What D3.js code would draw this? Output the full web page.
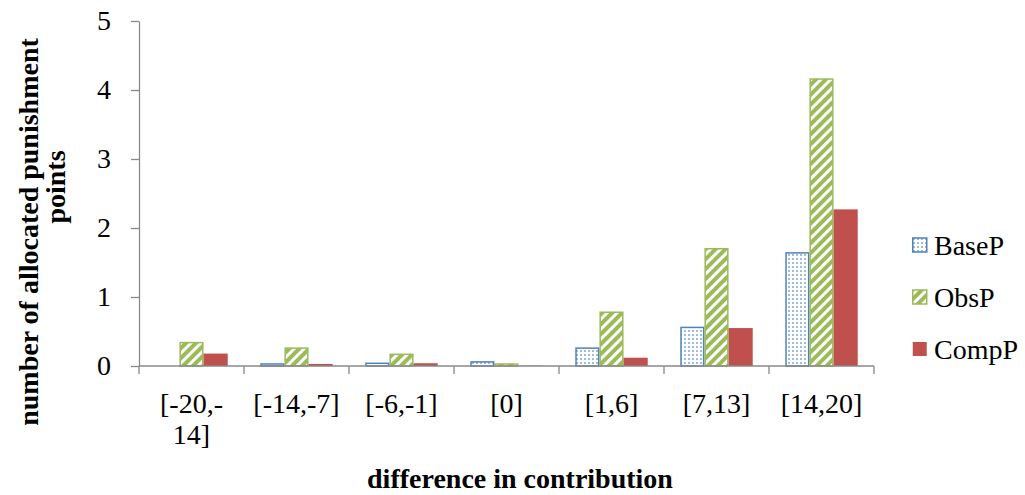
<!DOCTYPE html>
<html>
<head>
<meta charset="utf-8">
<script src="https://cdn.jsdelivr.net/npm/d3@7"></script>
<style>
  body { margin: 0; background: #fff; }
  text { font-family: "Liberation Serif", "Times New Roman", serif; }
</style>
</head>
<body>
<div id="chart"></div>
<script>
// data
var categories = [["[-20,-", "14]"], ["[-14,-7]"], ["[-6,-1]"], ["[0]"], ["[1,6]"], ["[7,13]"], ["[14,20]"]];
var seriesNames = ["BaseP", "ObsP", "CompP"];
var baseP = [0.0, 0.04, 0.05, 0.07, 0.27, 0.57, 1.65];
var obsP = [0.35, 0.27, 0.18, 0.04, 0.79, 1.71, 4.17];
var compP = [0.18, 0.03, 0.04, 0.005, 0.12, 0.55, 2.27];
var yTicks = [0, 1, 2, 3, 4, 5];

var width = 1025, height = 495;
var margin = {left: 139, right: 151, top: 21, bottom: 129};
var plotW = width - margin.left - margin.right;
var plotH = height - margin.top - margin.bottom;
var fontSize = 28;

var svg = d3.select("#chart").append("svg").attr("width", width).attr("height", height);

var defs = svg.append("defs");
// dotted pattern for BaseP
var dots = defs.append("pattern").attr("id", "dots").attr("patternUnits", "userSpaceOnUse")
    .attr("width", 4).attr("height", 4);
dots.append("rect").attr("width", 4).attr("height", 4).attr("fill", "#fff");
dots.append("circle").attr("cx", 2).attr("cy", 2).attr("r", 1).attr("fill", "#7FA6D6");
// diagonal stripes for ObsP
var stripes = defs.append("pattern").attr("id", "stripes").attr("patternUnits", "userSpaceOnUse")
    .attr("width", 7).attr("height", 7).attr("patternTransform", "rotate(45)");
stripes.append("rect").attr("width", 7).attr("height", 7).attr("fill", "#fff");
stripes.append("rect").attr("width", 4).attr("height", 7).attr("fill", "#9BBB59");

var styles = [
    {fill: "url(#dots)", stroke: "#4F81BD"},
    {fill: "url(#stripes)", stroke: "#9BBB59"},
    {fill: "#C0504D", stroke: "none"}
];

var g = svg.append("g").attr("transform", "translate(" + margin.left + "," + margin.top + ")");

var x0 = d3.scaleBand().domain(d3.range(categories.length)).range([0, plotW]).paddingInner(0.31).paddingOuter(0.155);
var x1 = d3.scaleBand().domain(d3.range(seriesNames.length)).range([0, x0.bandwidth()]);
var y = d3.scaleLinear().domain([0, 5]).range([plotH, 0]);

var allSeries = [baseP, obsP, compP];

allSeries.forEach(function(values, si) {
    var inset = styles[si].stroke === "none" ? 0 : 0.75;
    g.append("g").selectAll("rect").data(values).enter().append("rect")
        .attr("x", function(d, i) { return x0(i) + x1(si) + inset; })
        .attr("y", function(d) { return y(d) + inset; })
        .attr("width", x1.bandwidth() - 2 * inset)
        .attr("height", function(d) { return Math.max(0, plotH - y(d) - inset); })
        .attr("fill", styles[si].fill)
        .attr("stroke", styles[si].stroke)
        .attr("stroke-width", 1.5);
});

// y axis
var yAxis = g.append("g").call(d3.axisLeft(y).tickValues(yTicks).tickFormat(d3.format("d"))
    .tickSize(8).tickSizeOuter(0).tickPadding(20));
yAxis.select(".domain").attr("stroke", "#898989").attr("stroke-width", 1.3);
yAxis.selectAll(".tick line").attr("stroke", "#898989").attr("stroke-width", 1.3);
yAxis.selectAll(".tick text").attr("font-size", fontSize).attr("fill", "#000")
    .style("font-family", "Liberation Serif, serif");

// x axis with ticks at category edges
var xEdges = d3.range(categories.length + 1).map(function(i) { return i * plotW / categories.length; });
var xAxisG = g.append("g").attr("transform", "translate(0," + plotH + ")");
xAxisG.append("line").attr("x1", 0).attr("x2", plotW).attr("stroke", "#898989").attr("stroke-width", 1.3);
xAxisG.selectAll(".edge").data(xEdges).enter().append("line")
    .attr("x1", function(d) { return d; }).attr("x2", function(d) { return d; })
    .attr("y1", 0).attr("y2", 8).attr("stroke", "#898989").attr("stroke-width", 1.3);

xAxisG.selectAll(".lab").data(categories).enter().append("text")
    .attr("text-anchor", "middle")
    .attr("font-size", fontSize)
    .attr("fill", "#000")
    .each(function(d, i) {
        var t = d3.select(this);
        d.forEach(function(line, li) {
            t.append("tspan").attr("x", x0(i) + x0.bandwidth() / 2).attr("y", 47 + li * 31).text(line);
        });
    });

// axis titles
svg.append("text").attr("x", 520).attr("y", 488)
    .attr("text-anchor", "middle").attr("font-size", fontSize).attr("font-weight", "bold")
    .text("difference in contribution");

svg.append("text").attr("transform", "translate(38,232) rotate(-90)")
    .attr("text-anchor", "middle").attr("font-size", fontSize).attr("font-weight", "bold")
    .text("number of allocated punishment");
svg.append("text").attr("transform", "translate(65,187) rotate(-90)")
    .attr("text-anchor", "middle").attr("font-size", fontSize).attr("font-weight", "bold")
    .text("points");

// legend
var legend = svg.append("g").attr("transform", "translate(912,245)");
seriesNames.forEach(function(name, i) {
    var item = legend.append("g").attr("transform", "translate(0," + i * 52 + ")");
    item.append("rect").attr("x", 0.75).attr("y", -7).attr("width", 14).attr("height", 14)
        .attr("fill", styles[i].fill).attr("stroke", styles[i].stroke).attr("stroke-width", 1.5);
    item.append("text").attr("x", 22).attr("y", 10).attr("font-size", fontSize).text(name);
});
</script>
</body>
</html>
